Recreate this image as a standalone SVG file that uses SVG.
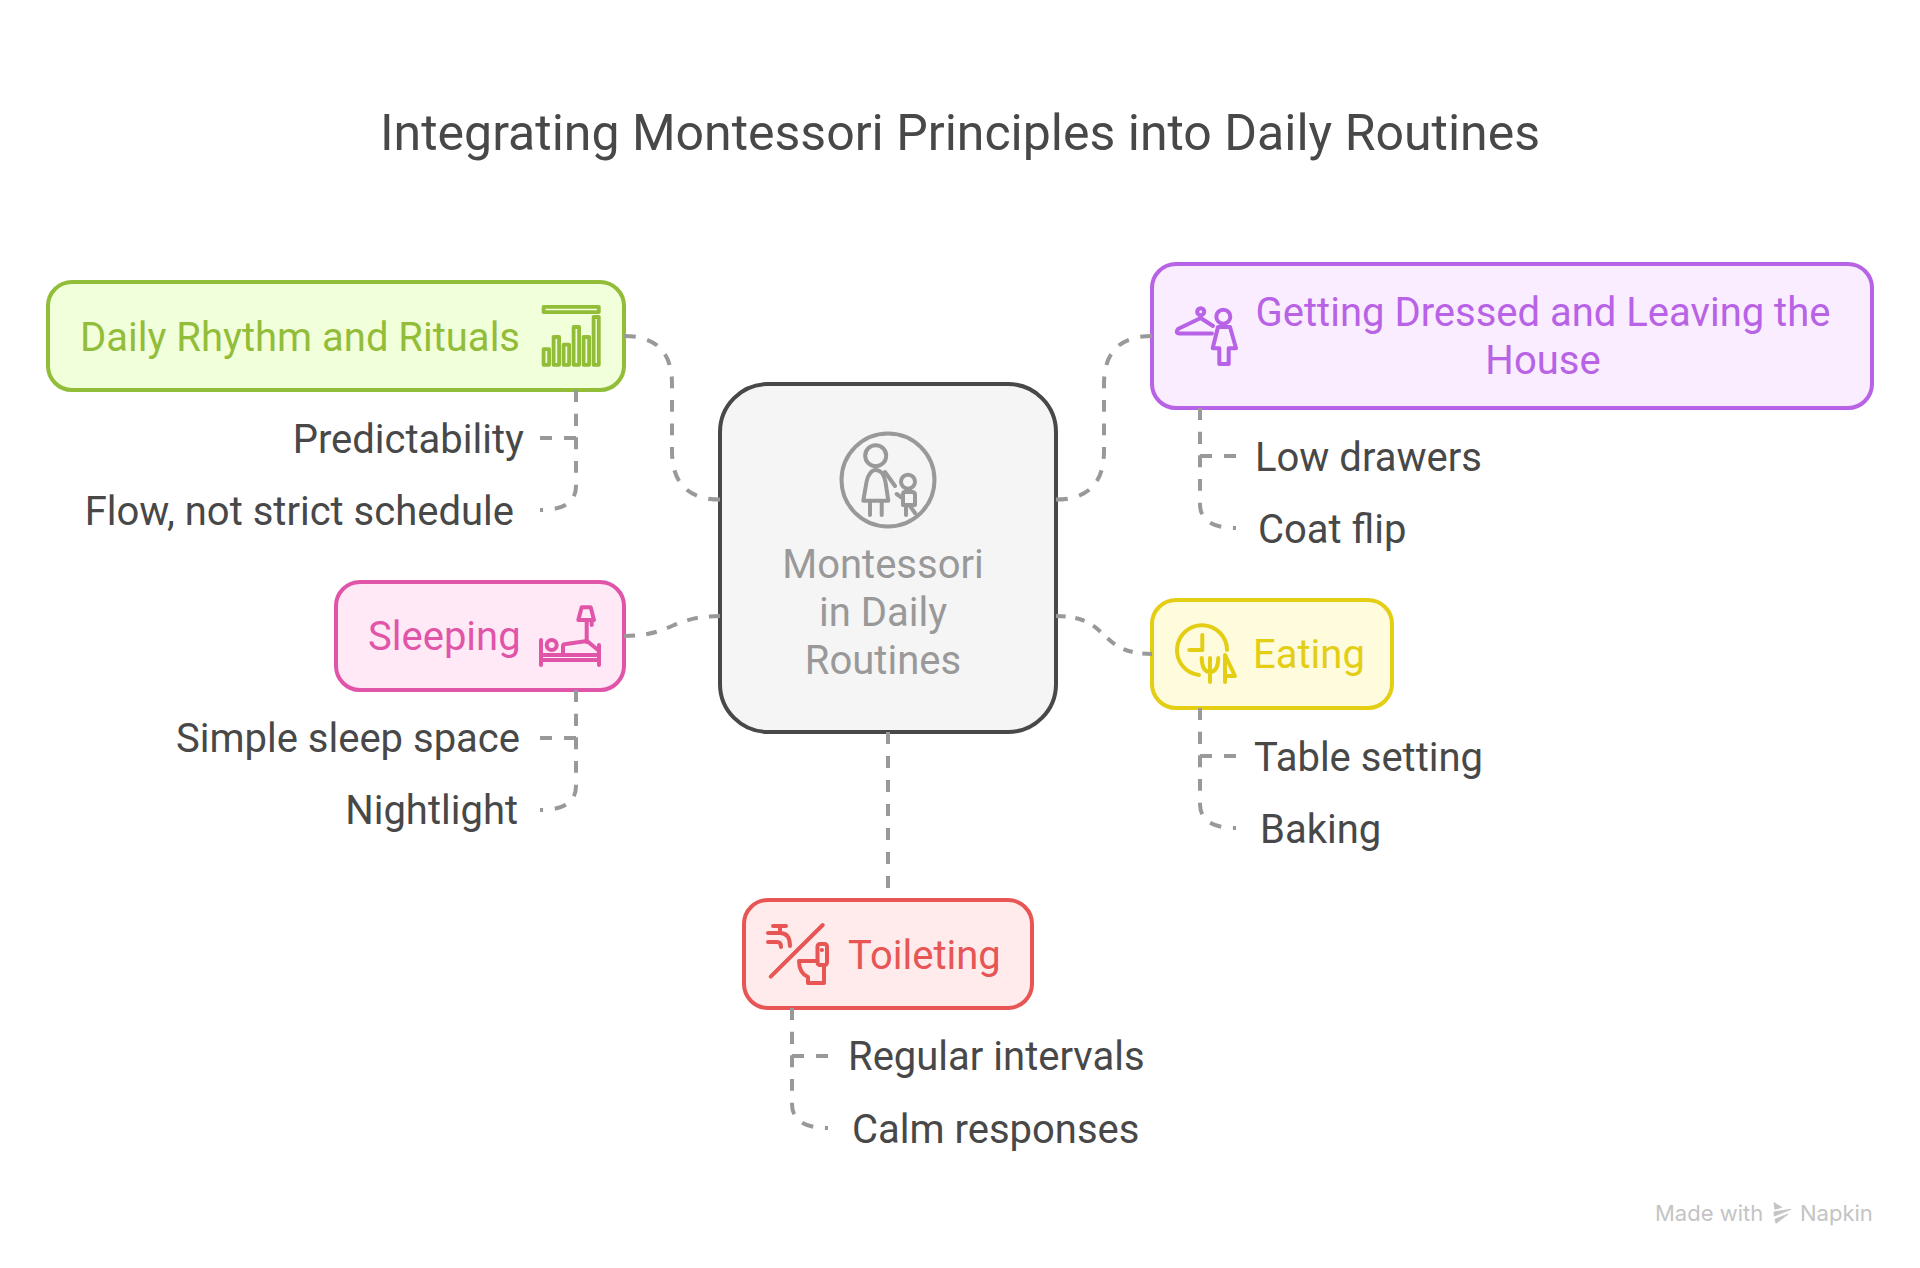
<svg xmlns="http://www.w3.org/2000/svg" width="1920" height="1268" viewBox="0 0 1920 1268">
<style>
text{font-family:Roboto,"Liberation Sans",sans-serif;font-size:40px}
.title{font-size:50px;fill:#484848;text-anchor:middle}
.sub{fill:#484848}
.end{text-anchor:end}
.mid{text-anchor:middle}
.box{stroke-width:4}
.con{fill:none;stroke:#999;stroke-width:4;stroke-dasharray:12 12}
.ic{fill:none;stroke-width:4;stroke-linecap:round;stroke-linejoin:round}
.wm{font-family:Inter,"Liberation Sans",sans-serif;font-size:22px;fill:#c4c4c4}
</style>
<rect width="1920" height="1268" fill="#fff"/>
<text id="title" class="title" x="960" y="150">Integrating Montessori Principles into Daily Routines</text>
<g id="node-center">
<rect class="box" x="720" y="384" width="336" height="348" rx="48" fill="#f5f5f5" stroke="#484848"/>
<g class="ic" stroke="#999">
<circle cx="888" cy="480" r="46.5"/>
<circle cx="875.7" cy="455.7" r="10.5"/>
<path d="M863.3 500.7L866.5 482C868 474 872 470 875.7 470C880 470 884 474 885.5 482L888.3 500.7Z"/>
<path d="M870 501V515M881.7 501V515M885 472L895 486"/>
<circle cx="908" cy="481.7" r="7"/>
<path d="M896.7 494L902.7 498.3M903 505V494Q903 492 905 492H912Q915 492 915 495V505ZM906 505V515M909.3 505L915 513"/>
</g>
<text class="mid" fill="#999" x="883" y="578">Montessori</text>
<text class="mid" fill="#999" x="883" y="626">in Daily</text>
<text class="mid" fill="#999" x="883" y="674">Routines</text>
</g>
<g id="node-daily">
<rect class="box" x="48" y="282" width="576" height="108" rx="24" fill="#f2ffdb" stroke="#92bd39"/>
<text fill="#92bd39" x="80" y="351">Daily Rhythm and Rituals</text>
<g fill="none" stroke="#92bd39" stroke-width="3.8" stroke-linejoin="round">
<rect x="543.6" y="306.9" width="55.2" height="5.2"/>
<rect x="543.6" y="349.2" width="5.5" height="15.6"/>
<rect x="553.6" y="337" width="5.5" height="27.8"/>
<rect x="563.6" y="344.6" width="5.5" height="20.2"/>
<rect x="573.6" y="327" width="5.5" height="37.8"/>
<rect x="583.6" y="337" width="5.5" height="27.8"/>
<rect x="593.6" y="317" width="5.2" height="47.8"/>
</g>
<text class="sub end" x="524" y="453">Predictability</text>
<text class="sub end" x="514" y="525">Flow, not strict schedule</text>
</g>
<g id="node-dressed">
<rect class="box" x="1152" y="264" width="720" height="144" rx="24" fill="#f9edff" stroke="#b863e6"/>
<text class="mid" fill="#b863e6" x="1543" y="326">Getting Dressed and Leaving the</text>
<text class="mid" fill="#b863e6" x="1543" y="374">House</text>
<g class="ic" stroke="#b863e6">
<circle cx="1200.7" cy="311.7" r="3.5"/>
<path d="M1200.7 318L1178 329Q1175 333 1179 333.5H1212M1200.7 318L1213 326"/>
<circle cx="1223.3" cy="316.7" r="7"/>
<path d="M1218 327H1230L1236 348.3H1228.7V364H1219.3V348.3H1212.7Z"/>
</g>
<text class="sub" x="1255" y="471">Low drawers</text>
<text class="sub" x="1258" y="543">Coat flip</text>
</g>
<g id="node-sleeping">
<rect class="box" x="336" y="582" width="288" height="108" rx="24" fill="#ffe9f6" stroke="#e155a9"/>
<text fill="#e155a9" x="368" y="650">Sleeping</text>
<g class="ic" stroke="#e155a9">
<path d="M581.7 607.3H590.7L594 620H578.3ZM586.7 620V642M591.7 620V625"/>
<path d="M541 640V665M599 645V665M541 655H599M541 660H599"/>
<circle cx="551.7" cy="645" r="5"/>
<path d="M563 653V646Q563 644 566 644L587 641L598 650"/>
</g>
<text class="sub end" x="520" y="752">Simple sleep space</text>
<text class="sub end" x="518" y="824">Nightlight</text>
</g>
<g id="node-eating">
<rect class="box" x="1152" y="600" width="240" height="108" rx="24" fill="#fffbdd" stroke="#e3ce14"/>
<text fill="#e3ce14" x="1253" y="668">Eating</text>
<g class="ic" stroke="#e3ce14">
<path d="M1199 675A25 25 0 1 1 1227 650"/>
<path d="M1202.3 635V650H1189.3M1210 658V682M1201.7 658Q1202 672 1210 672Q1218 672 1218.3 658M1225 682V655L1235 676H1225"/>
</g>
<text class="sub" x="1254" y="771">Table setting</text>
<text class="sub" x="1260" y="843">Baking</text>
</g>
<g id="node-toileting">
<rect class="box" x="744" y="900" width="288" height="108" rx="24" fill="#ffebeb" stroke="#e85555"/>
<text fill="#e85555" x="848" y="969">Toileting</text>
<g class="ic" stroke="#e85555">
<path d="M770.7 976.7L822.7 925M773 926H786M780 926V932M768 933H780Q790 933 790 946M768 942H777Q781 942 781 947"/>
<rect x="817.5" y="944" width="9.5" height="21" rx="2.5"/>
<path d="M799 961H817.5M799 961Q799 973 808 977V983H824V965"/>
<path d="M821.7 950H822" />
</g>
<text class="sub" x="848" y="1070">Regular intervals</text>
<text class="sub" x="852" y="1143">Calm responses</text>
</g>
<g id="connectors">
<path class="con" pathLength="228" d="M624 336C656 336 672 352 672 384V451C672 483 688 499.5 720 499.5"/>
<path class="con" pathLength="228" d="M1056 499.5C1088 499.5 1104 483 1104 451V384C1104 352 1120 336 1152 336"/>
<path class="con" pathLength="108" d="M624 636C672 636 672 616 720 616"/>
<path class="con" pathLength="132" d="M1056 616C1112 616 1096 654 1152 654"/>
<path class="con" d="M888 732V900"/>
<path class="con" d="M576 390V438H540"/>
<path class="con" pathLength="147" d="M576 390V486C576 502 564 510 540 510"/>
<path class="con" d="M576 690V738H540"/>
<path class="con" pathLength="147" d="M576 690V786C576 802 564 810 540 810"/>
<path class="con" d="M1200 408V456H1236"/>
<path class="con" pathLength="147" d="M1200 408V504C1200 520 1212 528 1236 528"/>
<path class="con" d="M1200 708V756H1236"/>
<path class="con" pathLength="147" d="M1200 708V804C1200 820 1212 828 1236 828"/>
<path class="con" d="M792 1008V1056H828"/>
<path class="con" pathLength="147" d="M792 1008V1104C792 1120 804 1128 828 1128"/>
</g>
<g id="watermark">
<text class="wm" x="1655" y="1221">Made with</text>
<path d="M1774 1202.7L1781.7 1207.3L1775 1209.3ZM1774 1212L1790.7 1209.3L1774.3 1216ZM1775 1219.3L1788.3 1214L1776 1223.3Z" fill="#c4c4c4" stroke="#c4c4c4" stroke-width="1"/>
<text class="wm" x="1800" y="1221">Napkin</text>
</g>
</svg>
